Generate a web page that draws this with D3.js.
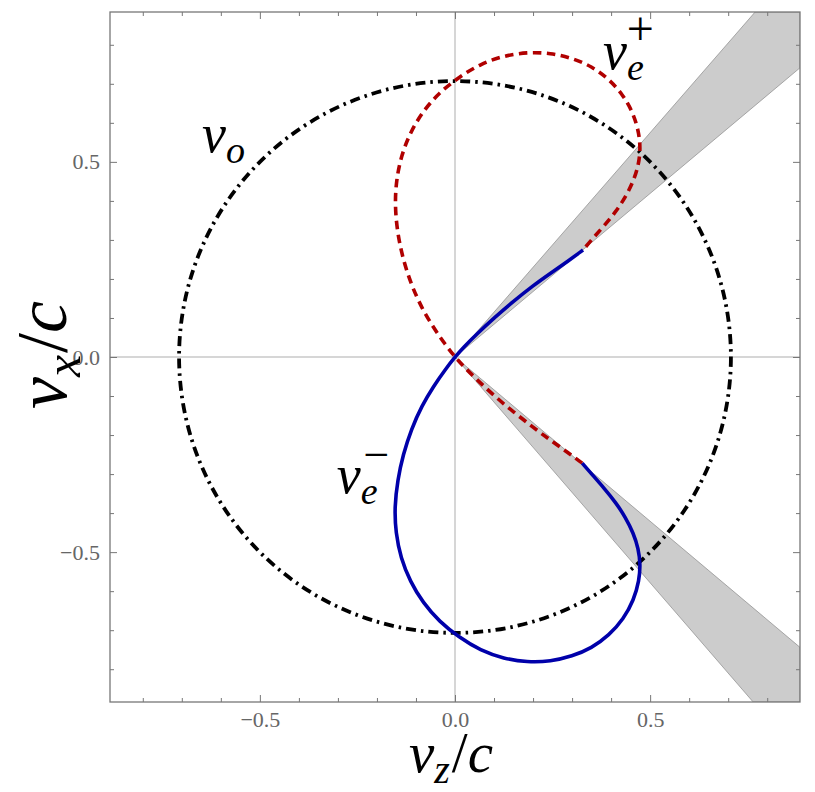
<!DOCTYPE html>
<html>
<head>
<meta charset="utf-8">
<script src="https://cdn.jsdelivr.net/npm/d3@7"></script>
<style>
  body { margin: 0; background: #fff; }
  svg { display: block; }
</style>
</head>
<body>
<div id="wrapper"></div>
<script>
// 1. Data (in units of c)
const axisLimit = 0.884;
const majorTicks = [-0.5, 0.0, 0.5];
const minorTicks = [-0.8, -0.7, -0.6, -0.4, -0.3, -0.2, -0.1, 0.1, 0.2, 0.3, 0.4, 0.6, 0.7, 0.8];

// ordinary wave: circle of radius ~1/sqrt(2)
const ordinaryRadius = 0.707;

// v_e^+ (dashed red): lower wedge piece, through origin, then the upper loop
const vePlus = [
  [0.326, -0.272], [0.288, -0.244], [0.244, -0.213], [0.200, -0.180], [0.150, -0.141],
  [0.100, -0.099], [0.055, -0.057], [0.022, -0.024], [0, 0],
  [-0.025, 0.032], [-0.055, 0.075], [-0.085, 0.125], [-0.112, 0.185], [-0.133, 0.250],
  [-0.147, 0.315], [-0.154, 0.385], [-0.151, 0.450], [-0.138, 0.515], [-0.115, 0.575],
  [-0.082, 0.630], [-0.040, 0.678], [0.010, 0.717], [0.065, 0.751], [0.125, 0.772],
  [0.185, 0.781], [0.245, 0.779], [0.300, 0.766], [0.350, 0.745], [0.395, 0.712],
  [0.432, 0.670], [0.458, 0.622], [0.472, 0.572], [0.475, 0.530], [0.470, 0.490],
  [0.457, 0.450], [0.437, 0.410], [0.412, 0.372], [0.382, 0.336], [0.352, 0.303],
  [0.328, 0.274]
];

// v_e^- (solid blue): upper wedge piece, through origin, then the lower loop
const veMinus = [
  [0.328, 0.274], [0.290, 0.246], [0.245, 0.215], [0.200, 0.183], [0.150, 0.143],
  [0.100, 0.100], [0.055, 0.058], [0.022, 0.025], [0, 0],
  [-0.025, -0.032], [-0.055, -0.075], [-0.085, -0.125], [-0.112, -0.185], [-0.133, -0.250],
  [-0.147, -0.315], [-0.155, -0.385], [-0.152, -0.450], [-0.139, -0.515], [-0.115, -0.575],
  [-0.082, -0.630], [-0.040, -0.678], [0.010, -0.718], [0.065, -0.752], [0.125, -0.773],
  [0.185, -0.782], [0.245, -0.780], [0.300, -0.767], [0.350, -0.746], [0.395, -0.713],
  [0.432, -0.671], [0.458, -0.623], [0.472, -0.573], [0.475, -0.531], [0.470, -0.491],
  [0.457, -0.451], [0.437, -0.411], [0.412, -0.373], [0.382, -0.336], [0.352, -0.302],
  [0.326, -0.272]
];

// grey wedges, vertices where their edges leave the frame
const upperWedge = [[0, 0], [0.769, 0.884], [0.884, 0.884], [0.884, 0.741]];
const lowerWedge = [[0, 0], [0.884, -0.744], [0.884, -0.884], [0.764, -0.884]];

// 2. Dimensions
const dimensions = {
  width: 815,
  height: 792,
  margin: { top: 12, right: 15, bottom: 90, left: 110 },
};
dimensions.boundedWidth = dimensions.width - dimensions.margin.left - dimensions.margin.right;
dimensions.boundedHeight = dimensions.height - dimensions.margin.top - dimensions.margin.bottom;

// 3. Canvas
const svg = d3.select("#wrapper")
  .append("svg")
  .attr("width", dimensions.width)
  .attr("height", dimensions.height);

const bounds = svg.append("g")
  .attr("transform", `translate(${dimensions.margin.left},${dimensions.margin.top})`);

bounds.append("clipPath").attr("id", "plot-clip")
  .append("rect")
  .attr("width", dimensions.boundedWidth)
  .attr("height", dimensions.boundedHeight);

// 4. Scales
const xScale = d3.scaleLinear()
  .domain([-axisLimit, axisLimit])
  .range([0, dimensions.boundedWidth]);
const yScale = d3.scaleLinear()
  .domain([-axisLimit, axisLimit])
  .range([dimensions.boundedHeight, 0]);

// 5. Draw data
const plot = bounds.append("g").attr("clip-path", "url(#plot-clip)");

// zero lines
plot.append("line")
  .attr("x1", xScale(0)).attr("x2", xScale(0))
  .attr("y1", 0).attr("y2", dimensions.boundedHeight)
  .attr("stroke", "#c8c8c8").attr("stroke-width", 1.5);
plot.append("line")
  .attr("x1", 0).attr("x2", dimensions.boundedWidth)
  .attr("y1", yScale(0)).attr("y2", yScale(0))
  .attr("stroke", "#c8c8c8").attr("stroke-width", 1.5);

const polyGenerator = d3.line()
  .x(d => xScale(d[0]))
  .y(d => yScale(d[1]));

plot.selectAll(".wedge")
  .data([upperWedge, lowerWedge])
  .join("path")
  .attr("class", "wedge")
  .attr("d", d => polyGenerator(d) + "Z")
  .attr("fill", "#cccccc")
  .attr("stroke", "#8a8a8a")
  .attr("stroke-width", 0.7);

plot.append("circle")
  .attr("cx", xScale(0))
  .attr("cy", yScale(0))
  .attr("r", xScale(ordinaryRadius) - xScale(0))
  .attr("fill", "none")
  .attr("stroke", "#000")
  .attr("stroke-width", 3.8)
  .attr("stroke-dasharray", "10,5,2.5,5");

// B-spline smooths the small reading errors in the traced points
const curveGenerator = d3.line()
  .x(d => xScale(d[0]))
  .y(d => yScale(d[1]))
  .curve(d3.curveBasis);

plot.append("path")
  .attr("d", curveGenerator(vePlus))
  .attr("fill", "none")
  .attr("stroke", "#b00000")
  .attr("stroke-width", 3.6)
  .attr("stroke-dasharray", "8.5,5.5");

plot.append("path")
  .attr("d", curveGenerator(veMinus))
  .attr("fill", "none")
  .attr("stroke", "#0000aa")
  .attr("stroke-width", 3.6);

// 6. Peripherals
const frameColor = "#777";
const serif = "'Liberation Serif', 'Times New Roman', serif";
const fmt = d3.format(".1f");

function styleAxis(g) {
  g.select(".domain").remove();
  g.selectAll("line").attr("stroke", frameColor);
  g.selectAll("text")
    .attr("fill", "#666")
    .style("font-family", serif)
    .style("font-size", "22px");
}

// bottom
bounds.append("g")
  .attr("transform", `translate(0,${dimensions.boundedHeight})`)
  .call(d3.axisBottom(xScale).tickValues(minorTicks).tickSize(-4).tickFormat(""))
  .call(styleAxis);
bounds.append("g")
  .attr("transform", `translate(0,${dimensions.boundedHeight})`)
  .call(d3.axisBottom(xScale).tickValues(majorTicks).tickSize(-7).tickPadding(9).tickFormat(fmt))
  .call(styleAxis);
// top
bounds.append("g")
  .call(d3.axisTop(xScale).tickValues(minorTicks).tickSize(-4).tickFormat(""))
  .call(styleAxis);
bounds.append("g")
  .call(d3.axisTop(xScale).tickValues(majorTicks).tickSize(-7).tickFormat(""))
  .call(styleAxis);
// left
bounds.append("g")
  .call(d3.axisLeft(yScale).tickValues(minorTicks).tickSize(-4).tickFormat(""))
  .call(styleAxis);
bounds.append("g")
  .call(d3.axisLeft(yScale).tickValues(majorTicks).tickSize(-7).tickPadding(10).tickFormat(fmt))
  .call(styleAxis);
// right
bounds.append("g")
  .attr("transform", `translate(${dimensions.boundedWidth},0)`)
  .call(d3.axisRight(yScale).tickValues(minorTicks).tickSize(-4).tickFormat(""))
  .call(styleAxis);
bounds.append("g")
  .attr("transform", `translate(${dimensions.boundedWidth},0)`)
  .call(d3.axisRight(yScale).tickValues(majorTicks).tickSize(-7).tickFormat(""))
  .call(styleAxis);

// frame
bounds.append("rect")
  .attr("width", dimensions.boundedWidth)
  .attr("height", dimensions.boundedHeight)
  .attr("fill", "none")
  .attr("stroke", frameColor)
  .attr("stroke-width", 1.3);

// math labels: italic base letter, lowered italic subscript,
// optional superscript stacked over the subscript, optional "/c" tail
function mathLabel(g, base, sub, size, opts = {}) {
  const subDy = Math.round(size * 0.2);
  const t = g.append("text")
    .style("font-family", serif)
    .style("font-size", size + "px")
    .attr("fill", "#000");
  t.append("tspan").style("font-style", "italic").text(base);
  t.append("tspan").style("font-style", "italic")
    .style("font-size", Math.round(size * 0.7) + "px")
    .attr("dy", subDy)
    .text(sub);
  if (opts.sup) {
    t.append("tspan")
      .style("font-size", opts.supSize + "px")
      .attr("dx", opts.supDx)
      .attr("dy", opts.supDy)
      .text(opts.sup);
  }
  if (opts.tail) {
    t.append("tspan").attr("dy", -subDy).attr("dx", 2).text("/");
    t.append("tspan").style("font-style", "italic").text(opts.tail);
  }
  return t;
}

// v_o
mathLabel(bounds, "v", "o", 54)
  .attr("x", xScale(-0.648)).attr("y", yScale(0.525));
// v_e^+
mathLabel(bounds, "v", "e", 54, { sup: "+", supSize: 48, supDx: -17, supDy: -35 })
  .attr("x", xScale(0.379)).attr("y", yScale(0.737));
// v_e^-
mathLabel(bounds, "v", "e", 54, { sup: "\u2212", supSize: 46, supDx: -14, supDy: -34 })
  .attr("x", xScale(-0.303)).attr("y", yScale(-0.349));

// axis titles
mathLabel(svg, "v", "z", 57, { tail: "c" })
  .attr("transform", "translate(451,772)")
  .attr("text-anchor", "middle");

mathLabel(svg, "v", "x", 72, { tail: "c" })
  .attr("transform", "translate(66,355) rotate(-90)")
  .attr("text-anchor", "middle");
</script>
</body>
</html>
